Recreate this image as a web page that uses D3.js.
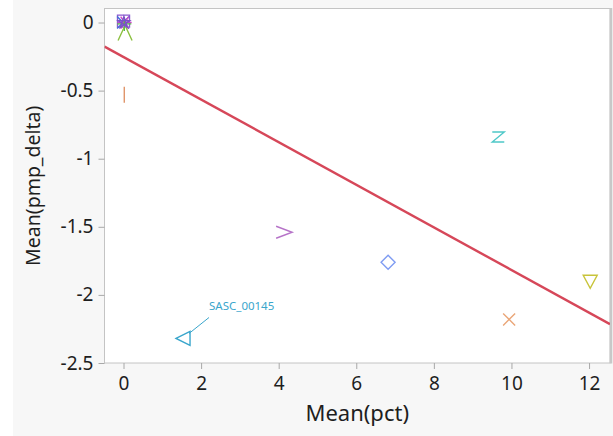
<!DOCTYPE html>
<html>
<head>
<meta charset="utf-8">
<script src="https://cdn.jsdelivr.net/npm/d3@7"></script>
<style>
  body { margin: 0; background: #fff; }
  svg { display: block; }
  .axis text { font-family: "Noto Sans", "Open Sans", sans-serif; font-size: 19px; fill: #1e1e1e; }
  .axis line { stroke: #a8a8a8; }
  .axis path { display: none; }
  .title { font-family: "Noto Sans", "Open Sans", sans-serif; fill: #1e1e1e; text-anchor: middle; }
</style>
</head>
<body>
<div id="chart"></div>
<script>
// data
var pointIds = ["a", "b", "c", "d", "e", "f", "g", "h", "i", "j", "k", "l", "SASC_00145"];
var pointX = [0.00, -0.01, 0.03, 0.02, 0.01, 0.04, 0.02, 9.66, 4.14, 6.82, 12.03, 9.94, 1.56];
var pointY = [0.01, 0.00, 0.00, -0.01, 0.00, -0.08, -0.53, -0.84, -1.54, -1.76, -1.90, -2.18, -2.32];
var pointShape = ["square", "times", "asterisk", "plus", "star", "lambda", "bar", "zee", "chevron", "diamond", "triDown", "times", "triLeft"];
var labeled = ["SASC_00145"];

// fit line (intercept, slope)
var fitIntercept = -0.253;
var fitSlope = -0.1564;

var xTicks = [0, 2, 4, 6, 8, 10, 12];
var yTicks = [0, -0.5, -1, -1.5, -2, -2.5];
var xTitle = "Mean(pct)";
var yTitle = "Mean(pmp_delta)";

var colors = ["#8a5ad0", "#3f6fd8", "#d048c8", "#54b848", "#7a4fc8", "#8cc040", "#e0956a",
    "#4ec8c8", "#b673c8", "#7f9cf2", "#c8c43a", "#eaa678", "#3aa6cc"];

//Define Margin
var margin = {left: 104.5, right: 3, top: 8.5, bottom: 73},
    width = 613 - margin.left - margin.right,
    height = 436 - margin.top - margin.bottom;

var root = d3.select("#chart")
    .append("svg")
    .attr("width", 613)
    .attr("height", 436);

root.append("rect")
    .attr("x", 13).attr("y", 0)
    .attr("width", 600).attr("height", 436)
    .attr("fill", "#f7f7f7");

var svg = root.append("g")
    .attr("transform", "translate(" + margin.left + "," + margin.top + ")");

var xScale = d3.scaleLinear().domain([-0.49, 12.54]).range([0, width]);
var yScale = d3.scaleLinear().domain([-2.5, 0.103]).range([height, 0]);

svg.append("rect")
    .attr("width", width)
    .attr("height", height)
    .attr("fill", "#fff")
    .attr("stroke", "#c4c4c4")
    .attr("stroke-width", 1);

svg.append("line")
    .attr("x1", width + 1).attr("x2", width + 1)
    .attr("y1", -0.5).attr("y2", height + 0.5)
    .attr("stroke", "#c8c8c8")
    .attr("stroke-width", 2.5);

svg.append("g")
    .attr("class", "axis axis--x")
    .attr("transform", "translate(0," + height + ")")
    .call(d3.axisBottom(xScale).tickValues(xTicks).tickSize(6).tickPadding(8)
        .tickFormat(function (d) { return String(d); }));

svg.append("g")
    .attr("class", "axis axis--y")
    .call(d3.axisLeft(yScale).tickValues(yTicks).tickSize(6).tickPadding(5)
        .tickFormat(function (d) { return String(d); }));

svg.append("text")
    .attr("class", "title")
    .attr("x", width / 2)
    .attr("y", height + 58)
    .style("font-size", "22px")
    .text(xTitle);

svg.append("text")
    .attr("class", "title")
    .attr("transform", "rotate(-90)")
    .attr("x", -height / 2)
    .attr("y", -65)
    .style("font-size", "19.5px")
    .text(yTitle);

var plot = svg.append("g");

plot.append("defs").append("clipPath").attr("id", "clip")
    .append("rect").attr("width", width).attr("height", height);

// regression line
var x0 = xScale.domain()[0], x1 = xScale.domain()[1];
plot.append("line")
    .attr("clip-path", "url(#clip)")
    .attr("x1", xScale(x0)).attr("y1", yScale(fitIntercept + fitSlope * x0))
    .attr("x2", xScale(x1)).attr("y2", yScale(fitIntercept + fitSlope * x1))
    .attr("stroke", "#d64759")
    .attr("stroke-width", 2.4);

// marker outlines
function markerPath(shape) {
    var p = d3.path();
    switch (shape) {
        case "square": p.rect(-6, -6, 12, 12); break;
        case "times":
            p.moveTo(-6, -6); p.lineTo(6, 6); p.moveTo(6, -6); p.lineTo(-6, 6); break;
        case "plus":
            p.moveTo(-7, 0); p.lineTo(7, 0); p.moveTo(0, -7); p.lineTo(0, 7); break;
        case "asterisk":
            p.moveTo(-7, 0); p.lineTo(7, 0); p.moveTo(-4, -6); p.lineTo(4, 6); p.moveTo(4, -6); p.lineTo(-4, 6); break;
        case "star":
            for (var i = 0; i < 5; i++) {
                var a = -Math.PI / 2 + i * 4 * Math.PI / 5;
                if (i === 0) p.moveTo(6 * Math.cos(a), 6 * Math.sin(a));
                else p.lineTo(6 * Math.cos(a), 6 * Math.sin(a));
            }
            p.closePath(); break;
        case "lambda":
            p.moveTo(-7, 7); p.lineTo(-1, -6); p.moveTo(7, 7); p.lineTo(1, -6); break;
        case "bar": p.moveTo(0, -8); p.lineTo(0, 8); break;
        case "zee":
            p.moveTo(-6, -5); p.lineTo(6, -5); p.lineTo(-6, 5); p.lineTo(6, 5); break;
        case "chevron":
            p.moveTo(-8, -6); p.lineTo(8, 0); p.lineTo(-8, 6); break;
        case "diamond":
            p.moveTo(0, -7); p.lineTo(7, 0); p.lineTo(0, 7); p.lineTo(-7, 0); p.closePath(); break;
        case "triDown":
            p.moveTo(-7, -6); p.lineTo(7, -6); p.lineTo(0, 7); p.closePath(); break;
        case "triLeft":
            p.moveTo(-8, 0); p.lineTo(6, -7); p.lineTo(6, 7); p.closePath(); break;
    }
    return p.toString();
}

var pts = pointIds.map(function (id, i) {
    return {id: id, x: pointX[i], y: pointY[i], shape: pointShape[i], color: colors[i]};
});

plot.selectAll(".pt")
    .data(pts)
    .enter().append("path")
    .attr("class", "pt")
    .attr("transform", function (d) { return "translate(" + xScale(d.x) + "," + yScale(d.y) + ")"; })
    .attr("d", function (d) { return markerPath(d.shape); })
    .attr("fill", "none")
    .attr("stroke", function (d) { return d.color; })
    .attr("stroke-width", 1.4);

// label with leader line
var lab = plot.selectAll(".lab")
    .data(pts.filter(function (d) { return labeled.indexOf(d.id) >= 0; }))
    .enter().append("g")
    .attr("class", "lab")
    .attr("transform", function (d) { return "translate(" + xScale(d.x) + "," + yScale(d.y) + ")"; });

lab.append("line")
    .attr("x1", 5).attr("y1", -5)
    .attr("x2", 25).attr("y2", -21)
    .attr("stroke", function (d) { return d.color; })
    .attr("stroke-width", 1);

lab.append("text")
    .attr("x", 25).attr("y", -28)
    .attr("fill", function (d) { return d.color; })
    .style("font-family", "'Noto Sans', sans-serif")
    .style("font-size", "11.5px")
    .text(function (d) { return d.id; });
</script>
</body>
</html>
